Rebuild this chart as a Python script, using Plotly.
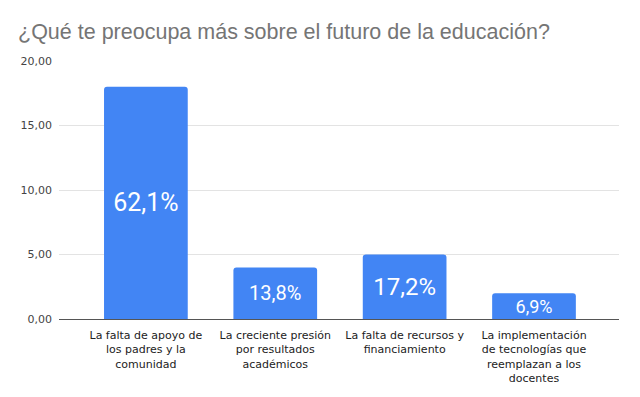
import plotly.graph_objects as go

categories = [
    "La falta de apoyo de<br>los padres y la<br>comunidad",
    "La creciente presión<br>por resultados<br>académicos",
    "La falta de recursos y<br>financiamiento",
    "La implementación<br>de tecnologías que<br>reemplazan a los<br>docentes",
]
values = [18, 4, 5, 2]
pct_labels = ["62,1%", "13,8%", "17,2%", "6,9%"]
label_sizes = [25, 20, 24, 18]
y_ticks = [0, 5, 10, 15, 20]

# the page body adds an 8px offset, so the figure is 8px smaller and margins shifted
W, H = 632, 389

fig = go.Figure(
    go.Bar(
        x=list(range(len(categories))),
        y=values,
        text=pct_labels,
        textposition="inside",
        insidetextanchor="middle",
        constraintext="none",
        textfont=dict(family="Roboto", color="white", size=label_sizes),
        marker=dict(color="#4285F4", cornerradius=3, line=dict(width=0)),
        width=0.647,
        hoverinfo="skip",
    )
)

fig.update_layout(
    width=W,
    height=H,
    margin=dict(l=49, r=21, t=53, b=77),
    paper_bgcolor="white",
    plot_bgcolor="white",
    separators=",.",
    showlegend=False,
    title=dict(
        text="¿Qué te preocupa más sobre el futuro de la educación?",
        font=dict(family="Liberation Sans, Arial", size=21.5, color="#757575"),
        x=10 / W,
        xanchor="left",
        xref="container",
        y=1 - 23 / H,
        yanchor="middle",
        yref="container",
    ),
    xaxis=dict(
        range=[-0.6716, 3.657],
        tickmode="array",
        tickvals=list(range(len(categories))),
        ticktext=categories,
        tickfont=dict(family="DejaVu Sans", size=11, color="#222222"),
        showgrid=False,
        showline=False,
        zeroline=False,
        ticks="",
        ticklabelstandoff=8,
    ),
    yaxis=dict(
        range=[0, 20],
        tickmode="array",
        tickvals=y_ticks,
        tickformat=".2f",
        tickfont=dict(family="DejaVu Sans", size=11, color="#444444"),
        showgrid=True,
        gridcolor="#e3e3e3",
        gridwidth=1,
        zeroline=True,
        zerolinecolor="#555555",
        zerolinewidth=1,
        showline=False,
        ticks="",
        ticklabelstandoff=6,
    ),
)

fig.write_html("out.html")
